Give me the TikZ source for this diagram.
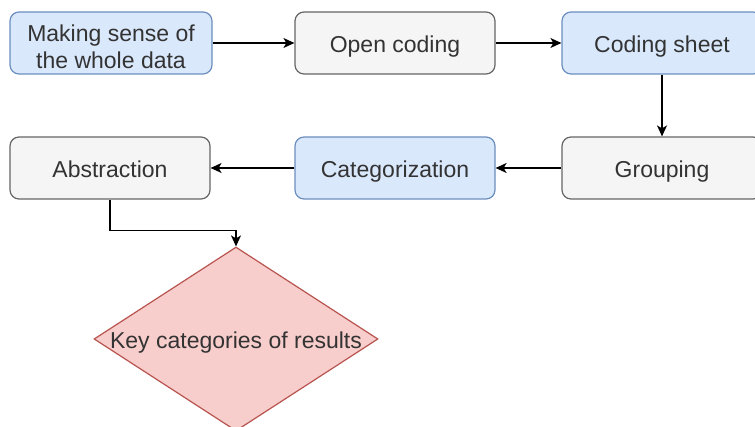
\documentclass[tikz,border=0pt]{standalone}
\usepackage{fontspec}
\setmainfont{Liberation Sans}
\usetikzlibrary{shapes.geometric,arrows.meta}
\definecolor{bluefill}{HTML}{DAE8FC}
\definecolor{blueline}{HTML}{6C8EBF}
\definecolor{greyfill}{HTML}{F5F5F5}
\definecolor{greyline}{HTML}{666666}
\definecolor{redfill}{HTML}{F8CECC}
\definecolor{redline}{HTML}{B85450}
\definecolor{txt}{HTML}{333333}
\tikzset{
  boxbase/.style={rectangle, rounded corners=9pt, minimum width=200pt, minimum height=62pt,
    inner sep=2pt, line width=1.2pt, align=center, text=txt,
    text height=21pt, text depth=2pt,
    font=\fontsize{23}{27}\selectfont},
  bluebox/.style={boxbase, fill=bluefill, draw=blueline},
  greybox/.style={boxbase, fill=greyfill, draw=greyline},
  decision/.style={diamond, fill=redfill, draw=redline, line width=1.2pt,
    minimum width=284pt, minimum height=184pt, inner sep=0pt},
  dtext/.style={text=txt, font=\fontsize{23}{27}\selectfont, inner sep=0pt,
    text height=21pt, text depth=2pt},
  mtext/.style={text=txt, font=\fontsize{23}{27}\selectfont, inner sep=0pt, align=center},
  conn/.style={line width=1.3pt, black, -{Stealth[length=11pt,width=10pt,inset=3pt]}}
}
\begin{document}
\begin{tikzpicture}[x=1pt,y=-1pt]
\useasboundingbox (0,0) rectangle (755,427);
\node[bluebox, minimum width=202pt] (n1) at (111,43) {};
\node[mtext] (n1t) at ([yshift=-3.5pt]n1.center) {Making sense of\\the whole data};
\node[greybox] (n2) at (395,43) {Open coding};
\node[bluebox] (n3) at (662,43) {Coding sheet};
\node[greybox] (n4) at (662,168) {Grouping};
\node[bluebox] (n5) at (395,168) {Categorization};
\node[greybox] (n6) at (110,168) {Abstraction};
\node[decision] (d) at (236,339) {};
\node[dtext] (dt) at (d.center) {Key categories of results};
\draw[conn] (n1.east) -- (n2.west);
\draw[conn] (n2.east) -- (n3.west);
\draw[conn] (n3.south) -- (n4.north);
\draw[conn] (n4.west) -- (n5.east);
\draw[conn] (n5.west) -- (n6.east);
\draw[conn] (n6.south) -- ++(0,31) -| (d.north);
\end{tikzpicture}
\end{document}
